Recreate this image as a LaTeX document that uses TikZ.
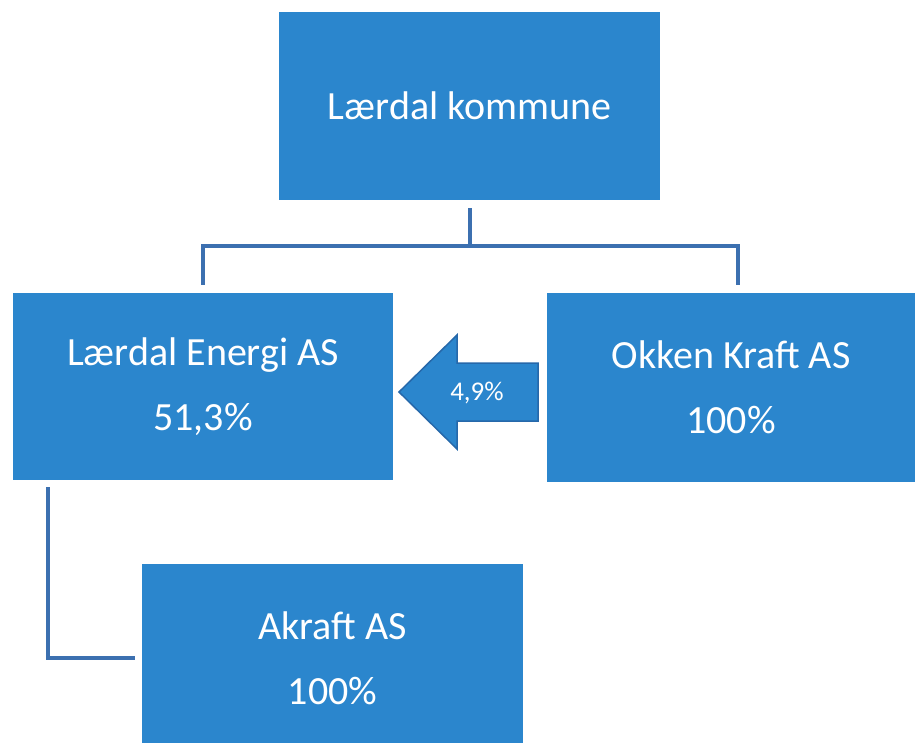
\documentclass[tikz,border=0pt]{standalone}
\usepackage{fontspec}
\setmainfont{Carlito}
\definecolor{boxblue}{RGB}{43,134,205}
\definecolor{lineblue}{RGB}{60,112,176}
\definecolor{edgeblue}{RGB}{38,104,170}
\begin{document}
\begin{tikzpicture}[x=1pt,y=-1pt,
  orgbox/.style={rectangle, fill=boxblue, draw=none, inner sep=0pt, text=white,
    align=center, font=\fontsize{40}{65}\selectfont},
  conn/.style={draw=lineblue, line width=4pt},
  blockarrow/.style={fill=boxblue, draw=edgeblue, line width=1.5pt, line join=miter}]
\useasboundingbox (0,0) rectangle (917,743);
\clip (0,0) rectangle (917,743);
\node[orgbox, minimum width=381pt, minimum height=188pt] (top) at (469.5,106) {Lærdal kommune};
\node[orgbox, minimum width=380pt, minimum height=187pt] (left) at (203,386.5) {Lærdal Energi AS\\51,3\%};
\node[orgbox, minimum width=368pt, minimum height=189pt] (right) at (731,387.5) {Okken Kraft AS\\100\%};
\node[orgbox, minimum width=381pt, minimum height=188pt] (bot) at (332.5,658) {Akraft AS\\100\%};
\coordinate (j) at (469.5,246);
\draw[conn] ([yshift=-8pt]top.south) -- (j);
\draw[conn] (j) -| ([yshift=8pt]left.north);
\draw[conn] (j) -| ([xshift=7pt,yshift=8pt]right.north);
\draw[conn] ([xshift=-155pt,yshift=-7pt]left.south) |- ([xshift=-7pt]bot.west);
\draw[blockarrow] (538,363) -- (457,363) -- (457,335) -- (399,392) -- (457,449) -- (457,421) -- (538,421) -- cycle;
\node[text=white, font=\fontsize{27}{32}\selectfont, inner sep=0pt] (pct) at (477,393) {4,9\%};
\end{tikzpicture}
\end{document}
